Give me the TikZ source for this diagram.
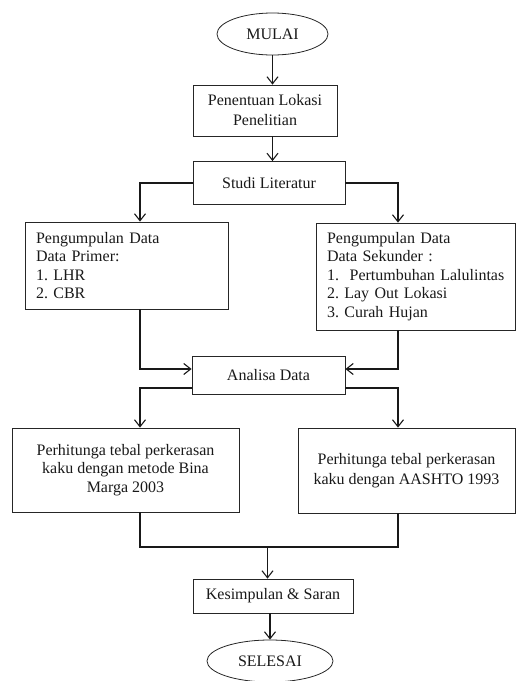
\documentclass[tikz,border=0pt]{standalone}
\usepackage{fontspec}
\setmainfont{Liberation Serif}
\usetikzlibrary{arrows.meta,shapes.geometric,calc}
\begin{document}
\begin{tikzpicture}[x=1pt,y=-1pt,
  every node/.style={font=\fontsize{16}{18.5}\selectfont\frenchspacing, text=black!90},
  box/.style={draw=black!85, line width=0.8pt, rectangle, inner sep=0pt, align=center},
  oval/.style={draw=black!85, line width=0.8pt, ellipse, inner sep=0pt},
  listbox/.style={draw=black!85, line width=0.8pt, rectangle, inner xsep=11pt, inner ysep=0pt, align=left},
  line/.style={draw=black!90, line width=1.1pt},
  arr/.style={line, -{Straight Barb[length=7pt,width=11pt,line width=1.1pt]}}
]
\useasboundingbox (0,0) rectangle (516,681);

\node[oval, minimum width=111pt, minimum height=42pt] (mulai) at (272.5,34) {MULAI};
\node[box, minimum width=144pt, minimum height=51pt, font=\fontsize{16}{20}\selectfont] (pen) at (265,110.5) {Penentuan Lokasi\\Penelitian};
\node[box, minimum width=152pt, minimum height=43pt] (studi) at (269,183) {Studi Literatur};
\node[listbox, text width=181pt, minimum height=87pt] (prim) at (126.5,265.5)
  {Pengumpulan Data\\Data Primer:\\1. LHR\\2. CBR};
\node[listbox, text width=177pt, minimum height=107pt] (sek) at (415.5,276.5)
  {Pengumpulan Data\\Data Sekunder :\\\mbox{1.\ \ Pertumbuhan Lalulintas}\\2. Lay Out Lokasi\\3. Curah Hujan};
\node[box, minimum width=153pt, minimum height=38pt] (ana) at (268.5,375) {Analisa Data};
\node[box, minimum width=227pt, minimum height=84pt] (bm) at (125.5,470)
  {Perhitunga tebal perkerasan\\kaku dengan metode Bina\\Marga 2003};
\node[box, minimum width=217pt, minimum height=85pt, font=\fontsize{16}{20}\selectfont] (aa) at (406.5,470.5)
  {Perhitunga tebal perkerasan\\kaku dengan AASHTO 1993};
\node[box, minimum width=160pt, minimum height=34pt] (kes) at (273,596) {Kesimpulan \& Saran};
\node[oval, minimum width=126pt, minimum height=42pt] (sel) at (270,661) {SELESAI};

\coordinate (lx) at (140,0);
\coordinate (rx) at (398,0);
\coordinate (join) at (267.5,547);

\draw[arr] (mulai.south) -- (mulai.south |- pen.north);
\draw[arr] (pen.south -| mulai.south) -- (studi.north -| mulai.south);
\draw[arr] (studi.west) -| (lx |- prim.north);
\draw[arr] (studi.east) -| (rx |- sek.north);
\draw[arr] (lx |- prim.south) |- ([yshift=6pt]ana.west);
\draw[arr] (rx |- sek.south) |- ([yshift=6pt]ana.east);
\draw[arr] ([yshift=-13pt]ana.west) -| (lx |- bm.north);
\draw[arr] ([yshift=-13pt]ana.east) -| (rx |- aa.north);
\draw[line] (lx |- bm.south) -- (lx |- join) -- (rx |- join) -- (rx |- aa.south);
\draw[arr] (join) -- (join |- kes.north);
\draw[arr] (kes.south -| sel.north) -- (sel.north);
\end{tikzpicture}
\end{document}
